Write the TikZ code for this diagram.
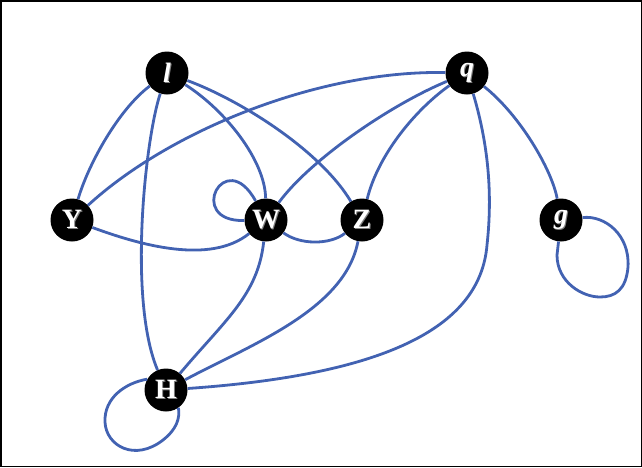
\documentclass[tikz,border=0pt]{standalone}
\usepackage{fontspec}
\setmainfont{Liberation Serif}
\definecolor{edgeblue}{RGB}{66,98,178}
\newcommand\shlbl[1]{\makebox[0pt][l]{\hspace{1pt}\raisebox{-1pt}{\color{gray}#1}}{\color{white}#1}}
\tikzset{
  vtx/.style={circle, fill=black, draw=none, minimum size=43pt, inner sep=0pt,
    font=\fontsize{28}{28}\selectfont\bfseries},
  edge/.style={draw=edgeblue, line width=2.8pt}
}
\begin{document}
\begin{tikzpicture}[x=1pt,y=-1pt]
\useasboundingbox (0,0) rectangle (642,467);
\draw[line width=1.5pt] (0.75,0.75) rectangle (641.25,466.25);
% nodes
\node[vtx] (l) at (167,73) {\shlbl{\itshape l}};
\node[vtx] (q) at (467,73) {\shlbl{\itshape q}};
\node[vtx] (Y) at (72,220) {\shlbl{Y}};
\node[vtx] (W) at (266,220) {\shlbl{W}};
\node[vtx] (Z) at (362,220) {\shlbl{Z}};
\node[vtx] (g) at (561,220) {\shlbl{\itshape g}};
\node[vtx] (H) at (166,390) {\shlbl{H}};
% edges
\path[edge] (l) .. controls (118,110) and (88,165) .. (Y);
\path[edge] (l) .. controls (145,140) and (128,300) .. (H);
\path[edge] (l) .. controls (225,110) and (265,160) .. (W);
\path[edge] (l) .. controls (240,100) and (320,150) .. (Z);
\path[edge] (Y) .. controls (170,130) and (320,70) .. (q);
\path[edge] (Y) .. controls (140,245) and (210,265) .. (W);
\path[edge] (W) .. controls (185,222) and (225,145) .. (W);
\path[edge] (W) .. controls (310,160) and (390,105) .. (q);
\path[edge] (W) .. controls (300,245) and (330,245) .. (Z);
\path[edge] (W) .. controls (258,295) and (225,320) .. (H);
\path[edge] (Z) .. controls (378,155) and (415,110) .. (q);
\path[edge] (Z) .. controls (345,310) and (250,345) .. (H);
\path[edge] (q) .. controls (490,150) and (492,200) .. (487,245)
                .. controls (480,330) and (380,375) .. (H);
\path[edge] (q) .. controls (520,115) and (552,170) .. (g);
\path[edge] (g) .. controls (605,215) and (630,235) .. (628,267)
                .. controls (626,290) and (615,297) .. (600,297)
                .. controls (582,297) and (557,282) .. (557,255) -- (g);
\path[edge] (H.150) .. controls (125,383) and (104,398) .. (105,422)
                .. controls (106,446) and (135,462) .. (163,440)
                .. controls (177,429) and (180,418) .. (H.-55);
\end{tikzpicture}
\end{document}
